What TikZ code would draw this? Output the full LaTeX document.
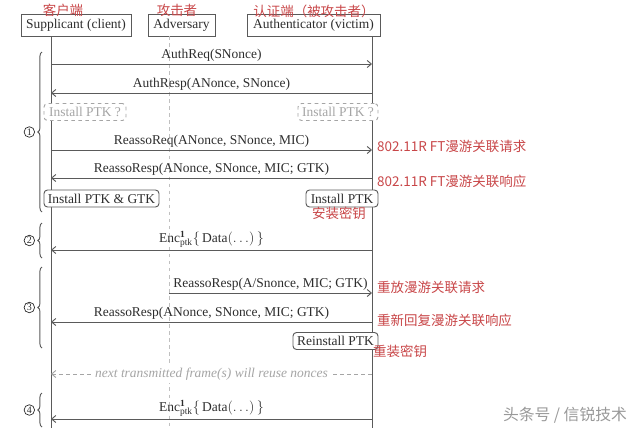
\documentclass[tikz,border=0pt]{standalone}
\usepackage{fontspec}
\setmainfont{Liberation Serif}
\newfontfamily\cjk{Noto Sans CJK SC}
\usetikzlibrary{arrows.meta,decorations.pathreplacing}
\definecolor{notered}{RGB}{200,70,72}
\definecolor{ink}{RGB}{45,45,45}
\definecolor{wire}{RGB}{90,90,90}
\definecolor{faint}{RGB}{165,165,165}
\newcommand*{\mytextstyle}{\fontsize{11.5}{13}\selectfont\color{ink}}
\newcommand*{\mynotestyle}{\cjk\fontsize{11.5}{13}\selectfont\color{notered}}
\newcommand{\msg}[6]{%
% name, start x, end x, y, options, label
  \coordinate (#1 a) at (#2,#4);
  \coordinate (#1 b) at (#3,#4);
  \draw[#5] (#1 a) -- node[above, msglabel] (#1 label) {#6} (#1 b);
}
\tikzset{
  actor/.style = {draw = wire, line width = 0.8pt, inner sep = 0pt,
    minimum height = 0.66cm, font = \mytextstyle},
  lifeline/.style = {draw = wire, line width = 0.8pt},
  advline/.style = {draw = faint!70, line width = 0.6pt, dashed},
  arrow/.style = {draw = wire, line width = 0.8pt,
    -{Straight Barb[length = 3.5pt, width = 6pt]}},
  msglabel/.style = {inner sep = 1.5pt, font = \mytextstyle},
  keybox/.style = {draw = wire, line width = 0.8pt, rounded corners = 3pt,
    fill = white, inner sep = 0pt, minimum height = 0.51cm, font = \mytextstyle},
  maybebox/.style = {keybox, draw = faint, dashed, text = faint},
  note/.style = {inner sep = 0pt, font = \mynotestyle},
  brace/.style = {draw = wire, line width = 0.8pt,
    decorate, decoration = {brace, amplitude = 3.5pt}},
  phase/.style = {draw = ink, circle, line width = 0.6pt, inner sep = 0pt,
    minimum size = 9pt, font = \fontsize{8.5}{8.5}\selectfont\color{ink}}
}
\begin{document}
\begin{tikzpicture}[x = 0.03cm, y = -0.03cm]
  \useasboundingbox (0,0) rectangle (640,445);

  % parties
  \node[actor, minimum width = 3.3cm] (cli) at (76,25) {Supplicant (client)};
  \node[actor, minimum width = 2.01cm] (adv) at (181.5,25) {Adversary};
  \node[actor, minimum width = 3.99cm] (auth) at (313.5,25) {Authenticator (victim)};

  \coordinate (cli top) at (51,36);
  \coordinate (cli bot) at (51,428);
  \coordinate (adv top) at (169,36);
  \coordinate (adv bot) at (169,428);
  \coordinate (auth top) at (372,36);
  \coordinate (auth bot) at (372,428);
  \draw[advline] (adv top) -- (adv bot);
  \draw[lifeline] (cli top) -- (cli bot);
  \draw[lifeline] (auth top) -- (auth bot);

  % phase 1
  \msg{m1}{51}{372}{64}{arrow}{AuthReq(SNonce)}
  \msg{m2}{372}{51}{93}{arrow}{AuthResp(ANonce, SNonce)}
  \node[maybebox, minimum width = 2.46cm] (cli maybe) at (85,112) {Install PTK ?};
  \node[maybebox, minimum width = 2.4cm] (auth maybe) at (338,112) {Install PTK ?};
  \msg{m3}{51}{372}{150}{arrow}{ReassoReq(ANonce, SNonce, MIC)}
  \msg{m4}{372}{51}{178}{arrow}{ReassoResp(ANonce, SNonce, MIC; GTK)}
  \node[keybox, minimum width = 3.45cm] (cli install) at (101.5,198.5) {Install PTK \& GTK};
  \node[keybox, minimum width = 2.16cm] (auth install) at (342,198.5) {Install PTK};

  % phase 2
  \msg{m5}{372}{51}{250}{arrow}{$\mathrm{Enc}^{\mathbf{1}}_{\mathrm{ptk}}\{\,\mathrm{Data}(\ldots)\,\}$}

  % phase 3
  \msg{m6}{169}{372}{293}{arrow}{ReassoResp(A/Snonce, MIC; GTK)}
  \msg{m7}{372}{51}{322}{arrow}{ReassoResp(ANonce, SNonce, MIC; GTK)}
  \node[keybox, minimum width = 2.55cm] (auth reinstall) at (335.5,341) {Reinstall PTK};

  % reuse
  \coordinate (reuse a) at (372,374);
  \coordinate (reuse b) at (51,374);
  \draw[arrow, draw = faint, dashed] (reuse a) -- node[fill = white, inner sep = 2pt,
    font = \mytextstyle\itshape, text = faint] (reuse label)
    {next transmitted frame(s) will reuse nonces} (reuse b);

  % phase 4
  \msg{m8}{372}{51}{419}{arrow}{$\mathrm{Enc}^{\mathbf{1}}_{\mathrm{ptk}}\{\,\mathrm{Data}(\ldots)\,\}$}

  % phases
  \foreach \n/\top/\bot in {1/52/212, 2/223/258, 3/267/348, 4/393/427} {
    \draw[brace] (42,\bot) -- node[phase, left = 6pt] (phase \n) {\n} (42,\top);
  }

  % notes
  \node[note] (cli note) at (63,10) {客户端};
  \node[note] (adv note) at (177,10) {攻击者};
  \node[note] (auth note) at (314,11) {认证端（被攻击者）};
  \node[note, anchor = west] (m3 note) at (377,146) {802.11R FT漫游关联请求};
  \node[note, anchor = west] (m4 note) at (377,181) {802.11R FT漫游关联响应};
  \node[note] (install note) at (339,213) {安装密钥};
  \node[note, anchor = west] (m6 note) at (377,287) {重放漫游关联请求};
  \node[note, anchor = west] (m7 note) at (377,320) {重新回复漫游关联响应};
  \node[note, anchor = west] (reinstall note) at (373,351) {重装密钥};

  \node[inner sep = 0pt, font = \cjk\fontsize{13.5}{15}\selectfont,
    text = black!40] (mark) at (565,415) {头条号 / 信锐技术};
\end{tikzpicture}
\end{document}
